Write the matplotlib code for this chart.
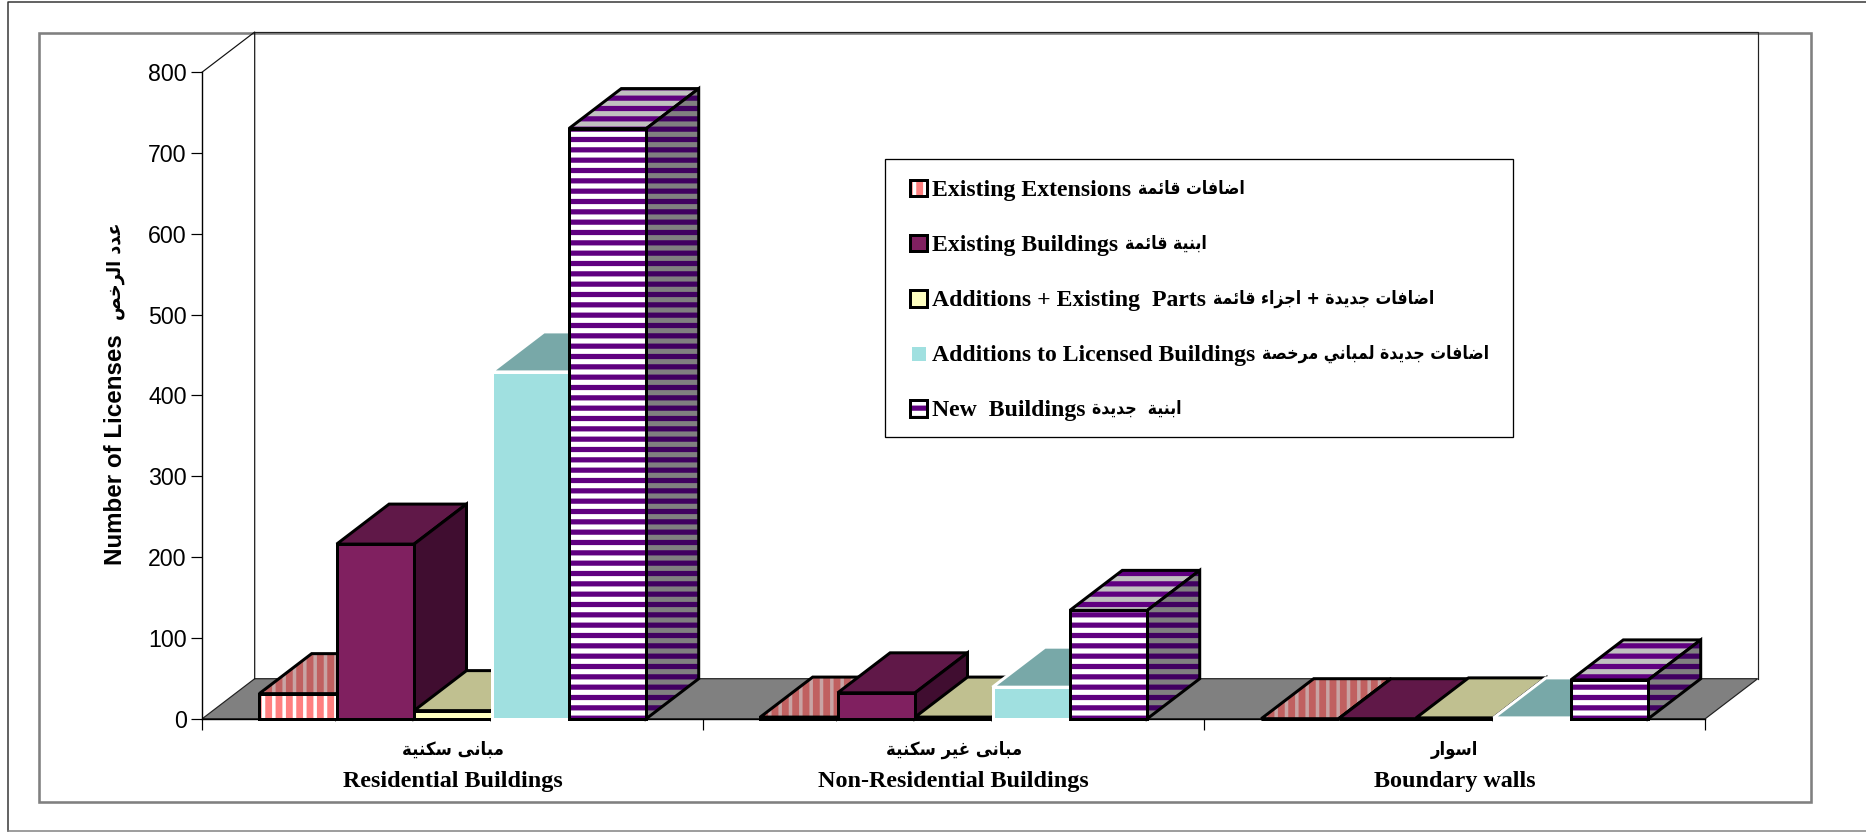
import matplotlib
matplotlib.use("Agg")
import matplotlib.pyplot as plt
from matplotlib.patches import Patch, Polygon, Rectangle
from matplotlib.lines import Line2D
from matplotlib.legend_handler import HandlerBase

W, H, DPI = 1866, 832, 124
PT = 72 / DPI  # one pixel in points

# ---------- data ----------
categories_en = ["Residential Buildings", "Non-Residential Buildings", "Boundary walls"]
categories_ar = ["مبانى سكنية", "مبانى غير سكنية", "اسوار"]
series_en = ["Existing Extensions", "Existing Buildings", "Additions + Existing  Parts",
             "Additions to Licensed Buildings", "New  Buildings"]
series_ar = ["اضافات قائمة", "ابنية قائمة", "اضافات جديدة + اجزاء قائمة",
             "اضافات جديدة لمباني مرخصة", "ابنية  جديدة"]
existing_extensions = [31, 2, 0]
existing_buildings = [216, 32, 0]
additions_existing = [10, 2, 1]
additions_licensed = [429, 39, 1]
new_buildings = [730, 134, 48]
yticks = [0, 100, 200, 300, 400, 500, 600, 700, 800]
ylabel_en = "Number of Licenses"
ylabel_ar = "عدد الرخص"

values = [existing_extensions, existing_buildings, additions_existing,
          additions_licensed, new_buildings]

# (front face, front hatch colour, top, top hatch, side, side hatch, hatch, hatch lw px, edge)
styles = [
    ("#FF8080", "#FFFFFF", "#C06060", "#C8A4A4", "#804040", "#808080", "||", 3.5, "black"),
    ("#802060", None, "#601848", None, "#400D30", None, None, 0, "black"),
    ("#FFFFC0", None, "#C0C090", None, "#808060", None, None, 0, "black"),
    ("#A0E0E0", None, "#78A8A8", None, "#507070", None, None, 0, "white"),
    ("#FFFFFF", "#600080", "#C0C0C0", "#600080", "#808080", "#400060", "--", 5.2, "black"),
]

# ---------- Arabic shaping (matplotlib does not join letters itself) ----------
FORMS = {"ء": (0xFE80, 1), "ئ": (0xFE89, 4), "ا": (0xFE8D, 2), "ب": (0xFE8F, 4), "ة": (0xFE93, 2),
         "ت": (0xFE95, 4), "ج": (0xFE9D, 4), "خ": (0xFEA5, 4), "د": (0xFEA9, 2), "ر": (0xFEAD, 2),
         "ز": (0xFEAF, 2), "س": (0xFEB1, 4), "ص": (0xFEB9, 4), "ض": (0xFEBD, 4), "ع": (0xFEC9, 4),
         "غ": (0xFECD, 4), "ف": (0xFED1, 4), "ق": (0xFED5, 4), "ك": (0xFED9, 4), "ل": (0xFEDD, 4),
         "م": (0xFEE1, 4), "ن": (0xFEE5, 4), "ه": (0xFEE9, 4), "و": (0xFEED, 2), "ى": (0xFEEF, 2),
         "ي": (0xFEF1, 4)}


def shape(text):
    out = []
    for i, ch in enumerate(text):
        if ch not in FORMS:
            out.append(ch)
            continue
        base, n = FORMS[ch]
        prev = text[i - 1] if i else ""
        nxt = text[i + 1] if i + 1 < len(text) else ""
        joins_prev = prev in FORMS and FORMS[prev][1] == 4 and n > 1
        joins_next = nxt in FORMS and FORMS[nxt][1] > 1 and n == 4
        out.append(chr(base + (1 if joins_prev else 0) + (2 if joins_next else 0)))
    return "".join(reversed(out))


ARABIC = dict(family="DejaVu Sans", stretch="condensed", fontweight="bold")

# ---------- figure ----------
plt.rcParams["font.family"] = ["Liberation Sans", "DejaVu Sans"]
fig = plt.figure(figsize=(W / DPI, H / DPI), dpi=DPI, facecolor="white")


def fx(x):
    return x / W


def fy(y):
    return 1 - y / H


X0, X1, Y0, Y800 = 202.3, 1705.3, 718.7, 72.0
ax = fig.add_axes([fx(X0), fy(Y0), fx(X1 - X0), (Y0 - Y800) / H])
ax.set_xlim(0, 3)
ax.set_ylim(0, 800)
ax.patch.set_visible(False)

DX = 52.4 / ((X1 - X0) / 3)
DY = 40.0 / ((Y0 - Y800) / 800)
BAR_W = 0.1545
GAP = (1 - 5 * BAR_W) / 2

# outer frames
for pts, col, lw in [([(8, 831), (8, 2), (W, 2)], "#333333", 1.5),
                     ([(8, 831), (W, 831)], "#808080", 1.5)]:
    fig.add_artist(Line2D([fx(p[0]) for p in pts], [fy(p[1]) for p in pts],
                          color=col, lw=lw * PT, transform=fig.transFigure))
fig.add_artist(Rectangle((fx(38.5), fy(802)), fx(1810.5 - 38.5), (802 - 32.5) / H, fill=False,
                         edgecolor="#808080", lw=2.6 * PT, transform=fig.transFigure, zorder=0))


def face(poly_pts, color, hatch_col, hatch, hatch_lw, edge, lw=3.0):
    plt.rcParams["hatch.linewidth"] = max(hatch_lw, 0.1) * PT  # read when the patch is created
    ax.add_patch(Polygon(poly_pts, closed=True, facecolor=color,
                         edgecolor=hatch_col if hatch else "none", hatch=hatch,
                         lw=0, clip_on=False, zorder=3))
    ax.add_patch(Polygon(poly_pts, closed=True, fill=False, edgecolor=edge, lw=lw * PT,
                         joinstyle="miter", clip_on=False, zorder=3))


# floor and walls
ax.add_patch(Polygon([(0, 0), (3, 0), (3 + DX, DY), (DX, DY)], closed=True, facecolor="#808080",
                     edgecolor="#222222", lw=1.2 * PT, clip_on=False, zorder=1))
ax.plot([0, DX, DX], [800, 800 + DY, DY], color="#111111", lw=1.2 * PT, clip_on=False, zorder=1)
ax.plot([DX, 3 + DX, 3 + DX], [800 + DY, 800 + DY, DY], color="#222222", lw=1.2 * PT,
        clip_on=False, zorder=1)

# bars, painted from left to right
for g in range(len(categories_en)):
    for s, series in enumerate(values):
        v = series[g]
        x0 = g + GAP + s * BAR_W
        x1 = x0 + BAR_W
        st = styles[s]
        face([(x0, v), (x1, v), (x1 + DX, v + DY), (x0 + DX, v + DY)], st[2], st[3], st[6], st[7], st[8])
        face([(x1, 0), (x1, v), (x1 + DX, v + DY), (x1 + DX, DY)], st[4], st[5], st[6], st[7], st[8])
        face([(x0, 0), (x1, 0), (x1, v), (x0, v)], st[0], st[1], st[6], st[7], st[8])

# axes, ticks
for name in ("top", "right"):
    ax.spines[name].set_visible(False)
for name in ("left", "bottom"):
    ax.spines[name].set_linewidth(1.4 * PT)
    ax.spines[name].set_zorder(2)
ax.set_yticks(yticks)
ax.set_yticklabels([str(t) for t in yticks], fontsize=13.4, color="black")
ax.tick_params(axis="y", length=10.5 * PT, width=1.2 * PT, pad=5 * PT)
ax.set_xticks([0, 1, 2, 3])
ax.set_xticklabels([])
ax.tick_params(axis="x", which="major", length=11 * PT, width=1.2 * PT)
ax.set_xticks([0.5, 1.5, 2.5], minor=True)
ax.set_xticklabels(categories_en, minor=True, family="Liberation Serif", fontweight="bold", fontsize=14)
ax.tick_params(axis="x", which="minor", length=0, pad=52 * PT)
for g, name in enumerate(categories_ar):
    ax.text(g + 0.5, -(749.5 - Y0) / (Y0 - Y800), shape(name), transform=ax.get_xaxis_transform(),
            ha="center", va="center", fontsize=10.7, **ARABIC)

fig.text(fx(115.5), fy(449.5), ylabel_en, rotation=90, ha="center", va="center",
         fontsize=14, fontweight="bold", family="Liberation Sans")
fig.text(fx(115.5), fy(271), shape(ylabel_ar), rotation=90, ha="center", va="center",
         fontsize=11.3, **ARABIC)

# legend frame and entries
fig.add_artist(Rectangle((fx(885), fy(437)), fx(1512.5 - 885), (437 - 159) / H, facecolor="white",
                         edgecolor="black", lw=1.3 * PT, transform=fig.transFigure, zorder=5))


class Swatch(HandlerBase):
    def create_artists(self, legend, orig, xd, yd, width, height, fontsize, trans):
        plt.rcParams["hatch.linewidth"] = (5.2 if orig.get_hatch() == "--" else 3.5) * PT
        fill = Rectangle((-xd, -yd), width, height, facecolor=orig.get_facecolor(),
                         edgecolor=orig.get_edgecolor() if orig.get_hatch() else "none",
                         hatch=orig.get_hatch(), lw=0, transform=trans)
        frame = Rectangle((-xd, -yd), width, height, fill=False,
                          edgecolor=orig.get_label(), lw=3.0 * PT, transform=trans)
        return [fill, frame]


handles = []
for st, col in zip(styles, ["black", "black", "black", "white", "black"]):
    handles.append(Patch(facecolor=st[0], edgecolor=st[1] or st[0], hatch=st[6], label=col))
leg = fig.legend(handles, series_en, loc="upper left", bbox_to_anchor=(fx(910), fy(179.5)),
                 bbox_transform=fig.transFigure, frameon=False, borderaxespad=0, borderpad=0,
                 handler_map={Patch: Swatch()},
                 prop={"family": "Liberation Serif", "weight": "bold", "size": 13.8},
                 handlelength=0.72, handleheight=0.72, handletextpad=0.2, labelspacing=1.4)
leg.set_zorder(6)

# Arabic half of each legend entry, placed right after the English half
renderer = fig.canvas.get_renderer()
fig.canvas.draw()
for txt, name in zip(leg.get_texts(), series_ar):
    box = txt.get_window_extent(renderer)
    fig.text((box.x1 + 7) / W, (box.y0 + box.y1) / 2 / H + 2 / H, shape(name), ha="left", va="center",
             fontsize=10.2, zorder=7, **ARABIC)

fig.savefig("out.png", dpi=DPI, facecolor="white")
